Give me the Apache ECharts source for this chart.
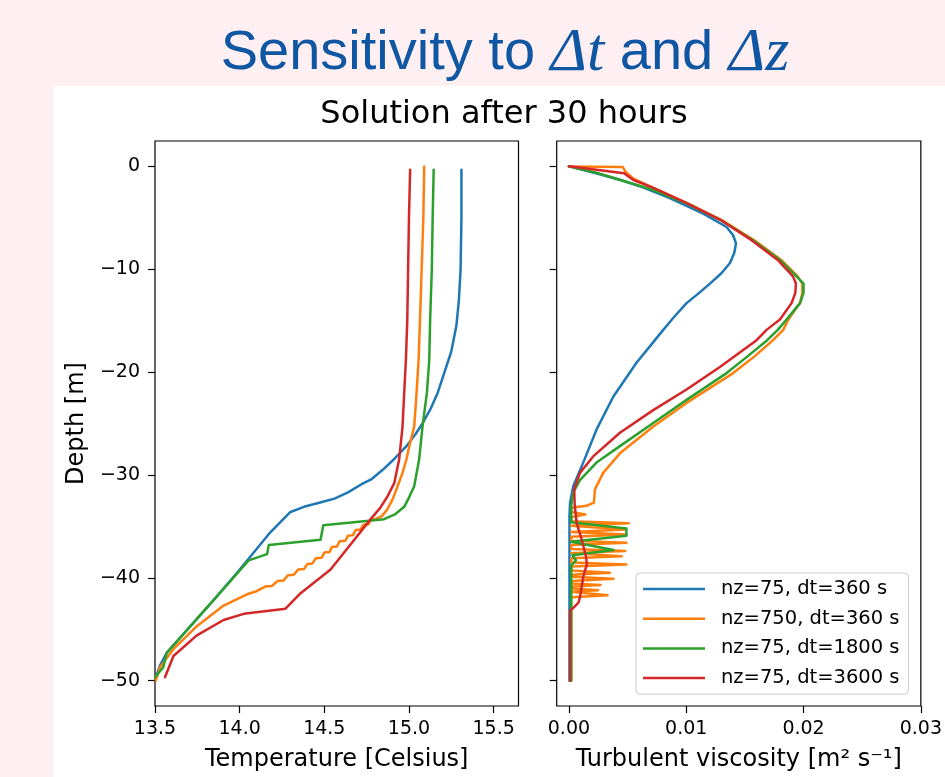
<!DOCTYPE html>
<html><head><meta charset="utf-8">
<script src="https://cdn.jsdelivr.net/npm/echarts@6/dist/echarts.min.js"></script>
<style>
html,body{margin:0;padding:0;background:#fdeff2;}
#panel{position:absolute;left:53px;top:86px;width:892px;height:691px;background:#ffffff;}
#c{position:absolute;left:0;top:0;width:945px;height:777px;}
</style>
</head><body><div id="panel"></div><div id="c"></div>
<script>
const seriesNames = ['nz=75, dt=360 s', 'nz=750, dt=360 s', 'nz=75, dt=1800 s', 'nz=75, dt=3600 s'];
const seriesColors = ['#1f77b4', '#ff7f0e', '#2ca02c', '#d62728'];
const tempTicks = [13.5, 14.0, 14.5, 15.0, 15.5];
const viscTicks = [0, 0.01, 0.02, 0.03];
const viscTickLabels = ['0.00', '0.01', '0.02', '0.03'];
const depthTicks = [0, -10, -20, -30, -40, -50];

// ---- Temperature profiles (left panel) ----
const blueTempDepth = [-0.33, -5, -10, -13, -15.5, -18, -20, -22, -23.5, -25, -26, -27.2, -28.5, -29.5, -30.4, -30.9, -31.7, -32.3, -32.7, -33.1, -33.6, -35.6, -39.5, -42, -45, -47.3, -48.5, -49.67];
const blueTemp      = [15.31, 15.31, 15.305, 15.295, 15.28, 15.25, 15.21, 15.17, 15.13, 15.08, 15.04, 14.985, 14.91, 14.845, 14.78, 14.72, 14.64, 14.56, 14.47, 14.38, 14.30, 14.18, 13.985, 13.855, 13.693, 13.569, 13.53, 13.505];

const orangeTempDepth = [-0.03, -5, -10, -15, -18.8, -22, -25.3, -27.2, -28.5, -29.8, -31, -32.4, -33.4, -34.0,
  -34.3, -34.35, -34.8, -34.85, -35.3, -35.35, -35.85, -35.9, -36.4, -36.45, -36.95, -37.0, -37.5, -37.55, -38.05, -38.1, -38.6, -38.65, -39.15, -39.2, -39.7, -39.75, -40.25, -40.3, -40.8, -40.85, -41.3,
  -41.6, -42.7, -44.7, -46.9, -48.7, -49.97];
const orangeTemp = [15.09, 15.085, 15.075, 15.065, 15.057, 15.045, 15.031, 15.002, 14.985, 14.962, 14.935, 14.903, 14.87, 14.84,
  14.80, 14.775, 14.76, 14.73, 14.715, 14.685, 14.67, 14.64, 14.625, 14.59, 14.575, 14.545, 14.53, 14.50, 14.485, 14.45, 14.43, 14.40, 14.38, 14.345, 14.32, 14.285, 14.26, 14.225, 14.19, 14.15, 14.10,
  14.043, 13.905, 13.747, 13.61, 13.53, 13.505];

const greenTempDepth = [-0.33, -5, -10, -15, -18.8, -22, -25.3, -28.5, -31.1, -32.2, -33.1, -33.8, -34.3, -34.9, -36.3, -36.8, -37.7, -38.3, -39.6, -47.3, -48.7, -49.67];
const greenTemp      = [15.146, 15.14, 15.135, 15.125, 15.12, 15.106, 15.08, 15.06, 15.031, 15.0, 14.972, 14.92, 14.853, 14.494, 14.478, 14.172, 14.162, 14.053, 13.984, 13.569, 13.549, 13.50];

const redTempDepth = [-0.33, -5, -10, -15, -18.8, -22, -25.3, -28.5, -30.8, -32.1, -33.2, -34.3, -35.1, -36.6, -39.2, -41.5, -43.0, -43.5, -44.1, -45.6, -47.6, -49.67];
const redTemp      = [15.007, 15.0, 14.995, 14.99, 14.982, 14.972, 14.962, 14.942, 14.913, 14.873, 14.83, 14.774, 14.735, 14.663, 14.537, 14.36, 14.271, 14.024, 13.905, 13.747, 13.609, 13.559];

// ---- Turbulent viscosity profiles (right panel) ----
const blueViscDepth = [0, -0.67, -1.33, -2.0, -3.1, -4.6, -5.9, -6.7, -7.5, -8.4, -9.4, -10.4, -11.4, -12.4, -13.3, -14.6, -15.9, -17.5, -19.1, -22.4, -25.6, -28.8, -31.1, -32.7, -34.0, -50.0];
const blueVisc      = [0, 0.0023, 0.0044, 0.0062, 0.0086, 0.01145, 0.01344, 0.0140, 0.01424, 0.0141, 0.01373, 0.0130, 0.01202, 0.0110, 0.01003, 0.0090, 0.00804, 0.0069, 0.00576, 0.00378, 0.00235, 0.00122, 0.00037, 0.0001, 0.00005, 0.00005];

const orangeViscDepth = [-0.03, -0.07, -0.5, -1.2, -2.1, -3.6, -5.2, -7.2, -9.1, -10.7, -11.4, -12.3, -13.3, -14.9, -15.9, -16.9, -18.5, -20.1, -23.0, -25.3, -27.9, -29.8, -31.4, -32.7, -33.0, -33.2,
  -33.6, -33.85, -34.1, -34.5, -34.7, -34.95, -35.1, -35.3, -35.55, -35.65, -35.8, -36.0, -36.4, -36.6, -36.8, -37.2, -37.4, -37.6, -37.75, -37.9, -38.1, -38.5, -38.7, -38.9,
  -39.3, -39.5, -39.7, -39.9, -40.1, -40.3, -40.55, -40.7, -40.85, -41.05, -41.2, -41.35, -41.5, -41.7, -41.9, -42.3, -49.97];
const orangeVisc = [0, 0.0046, 0.0048, 0.0055, 0.0072, 0.0101, 0.0130, 0.0158, 0.0181, 0.0195, 0.0199, 0.0199, 0.0197, 0.0187, 0.01827, 0.0174, 0.0158, 0.0140, 0.01003, 0.00719, 0.00435, 0.00292, 0.00222, 0.00213, 0.0015, 0.0002,
  0.0002, 0.0014, 0.0002, 0.0002, 0.0051, 0.0002, 0.0002, 0.0048, 0.0002, 0.0002, 0.0049, 0.0002, 0.0002, 0.0049, 0.0002, 0.0002, 0.0048, 0.0002, 0.0002, 0.0045, 0.0002, 0.0002, 0.0049, 0.0002,
  0.0002, 0.0035, 0.0002, 0.0002, 0.0038, 0.0002, 0.0002, 0.0027, 0.0002, 0.0002, 0.0025, 0.0002, 0.0002, 0.0033, 0.0002, 0.0002, 0.0002];

const greenViscDepth = [0, -0.67, -1.33, -2.3, -3.6, -5.2, -7.2, -9.1, -10.7, -11.4, -12.3, -13.3, -14.9, -15.9, -16.9, -18.5, -20.1, -22.7, -24.95, -27.2, -28.8, -30.5, -31.7, -33.0, -34.6, -35.2, -35.9, -36.5, -37.3, -37.8, -38.3, -38.8, -50.0];
const greenVisc      = [0, 0.0025, 0.0044, 0.0072, 0.0100, 0.0129, 0.0157, 0.0180, 0.0194, 0.0200, 0.0200, 0.0197, 0.01855, 0.0178, 0.0169, 0.0152, 0.01344, 0.01003, 0.00719, 0.00435, 0.00235, 0.00094, 0.00037, 0.0002, 0.0002, 0.0049, 0.0049, 0.0002, 0.0038, 0.0003, 0.0006, 0.0002, 0.0002];

const redViscDepth = [0, -0.67, -1.33, -2.1, -3.6, -5.2, -7.2, -9.1, -10.7, -11.4, -12.3, -13.3, -14.9, -15.9, -16.9, -19.5, -21.7, -23.7, -25.9, -28.2, -29.8, -31.4, -33.0, -34.7, -36.3, -37.9, -38.7, -39.8, -40.8, -41.8, -42.4, -42.9, -43.2, -50.0];
const redVisc      = [0, 0.0047, 0.0055, 0.0072, 0.0101, 0.0129, 0.0156, 0.0178, 0.0191, 0.01935, 0.0193, 0.01898, 0.01799, 0.01685, 0.0160, 0.01287, 0.01003, 0.00719, 0.00435, 0.00207, 0.00094, 0.00045, 0.0005, 0.00067, 0.0011, 0.00145, 0.00153, 0.00124, 0.0011, 0.00096, 0.00082, 0.0004, 0.0001, 0.0001];

const tempProfiles = [[blueTemp, blueTempDepth], [orangeTemp, orangeTempDepth], [greenTemp, greenTempDepth], [redTemp, redTempDepth]];
const viscProfiles = [[blueVisc, blueViscDepth], [orangeVisc, orangeViscDepth], [greenVisc, greenViscDepth], [redVisc, redViscDepth]];

const FONT = 'DejaVu Sans';
const minus = v => (v < 0 ? '\u2212' + Math.abs(v) : String(v));

function pairs(xs, ys) { return xs.map((x, i) => [x, ys[i]]); }

const series = [];
tempProfiles.forEach((p, i) => series.push({
  name: seriesNames[i], type: 'line', xAxisIndex: 0, yAxisIndex: 0,
  data: pairs(p[0], p[1]), showSymbol: false, symbol: 'none', clip: true,
  lineStyle: { color: seriesColors[i], width: 2.5, join: 'round', cap: 'round' }, itemStyle: { color: seriesColors[i] }
}));
viscProfiles.forEach((p, i) => series.push({
  name: seriesNames[i], type: 'line', xAxisIndex: 1, yAxisIndex: 1,
  data: pairs(p[0], p[1]), showSymbol: false, symbol: 'none', clip: true,
  lineStyle: { color: seriesColors[i], width: 2.5, join: 'round', cap: 'round' }, itemStyle: { color: seriesColors[i] }
}));

const tick = { show: true, inside: false, length: 7, lineStyle: { color: '#000', width: 1.2 } };
const labelStyle = { color: '#000', fontFamily: FONT, fontSize: 19 };
const noLine = { show: false, onZero: false };
const TITLE_BLUE = '#0f56a3';

const chart = echarts.init(document.getElementById('c'), null, { renderer: 'canvas' });
chart.setOption({
  animation: false,
  backgroundColor: 'transparent',
  graphic: [
    { type: 'text', x: 505, y: 54, z: 10,
      style: { text: '{a|Sensitivity to }{m|\u0394t}{a| and }{m|\u0394z}', align: 'center', verticalAlign: 'middle', fill: TITLE_BLUE,
        rich: {
          a: { fontFamily: 'Liberation Sans', fontSize: 56, fill: TITLE_BLUE, color: TITLE_BLUE },
          m: { fontFamily: 'Liberation Serif', fontStyle: 'italic', fontSize: 62, fill: TITLE_BLUE, color: TITLE_BLUE }
        } } },
    { type: 'text', x: 504, y: 115, z: 10,
      style: { text: 'Solution after 30 hours', align: 'center', verticalAlign: 'middle', font: '32px "DejaVu Sans"', fill: '#000' } }
  ],
  grid: [
    { left: 155, top: 141, width: 363.5, height: 565, show: true, borderColor: '#000', borderWidth: 1.2, backgroundColor: '#fff' },
    { left: 556.7, top: 141, width: 365, height: 565, show: true, borderColor: '#000', borderWidth: 1.2, backgroundColor: '#fff' }
  ],
  xAxis: [
    { gridIndex: 0, type: 'value', min: 13.5, max: 15.647, position: 'bottom',
      axisLine: noLine, splitLine: { show: false },
      axisTick: Object.assign({ customValues: tempTicks }, tick),
      axisLabel: Object.assign({ customValues: tempTicks, margin: 14, formatter: v => v.toFixed(1) }, labelStyle),
      name: 'Temperature [Celsius]', nameLocation: 'middle', nameGap: 42,
      nameTextStyle: { color: '#000', fontFamily: FONT, fontSize: 24 } },
    { gridIndex: 1, type: 'value', min: -0.00104, max: 0.03, position: 'bottom',
      axisLine: noLine, splitLine: { show: false },
      axisTick: Object.assign({ customValues: viscTicks }, tick),
      axisLabel: Object.assign({ customValues: viscTicks, margin: 14, formatter: v => viscTickLabels[viscTicks.indexOf(Math.round(v * 100) / 100)] }, labelStyle),
      name: 'Turbulent viscosity [m\u00b2 s\u207b\u00b9]', nameLocation: 'middle', nameGap: 42,
      nameTextStyle: { color: '#000', fontFamily: FONT, fontSize: 24 } }
  ],
  yAxis: [
    { gridIndex: 0, type: 'value', min: -52.46, max: 2.46, position: 'left',
      axisLine: noLine, splitLine: { show: false },
      axisTick: Object.assign({ customValues: depthTicks }, tick),
      axisLabel: Object.assign({ customValues: depthTicks, margin: 15, formatter: minus }, labelStyle),
      name: 'Depth [m]', nameLocation: 'middle', nameGap: 66, nameRotate: 90,
      nameTextStyle: { color: '#000', fontFamily: FONT, fontSize: 24 } },
    { gridIndex: 1, type: 'value', min: -52.46, max: 2.46, position: 'left',
      axisLine: noLine, splitLine: { show: false },
      axisTick: Object.assign({ customValues: depthTicks }, tick),
      axisLabel: { show: false } }
  ],
  legend: {
    show: true, orient: 'vertical', left: 636, top: 573,
    data: seriesNames,
    icon: 'path://M0,0H62V2.5H0Z', symbolKeepAspect: true,
    itemWidth: 62, itemHeight: 20, itemGap: 9.7,
    padding: [6, 9, 6, 7],
    backgroundColor: 'rgba(255,255,255,0.8)', borderColor: '#cccccc', borderWidth: 1, borderRadius: 4,
    textStyle: { color: '#000', fontFamily: FONT, fontSize: 19.5, lineHeight: 20, padding: [0, 0, 0, 11] },
    selectedMode: false
  },
  series: series
});
</script>
</body></html>
